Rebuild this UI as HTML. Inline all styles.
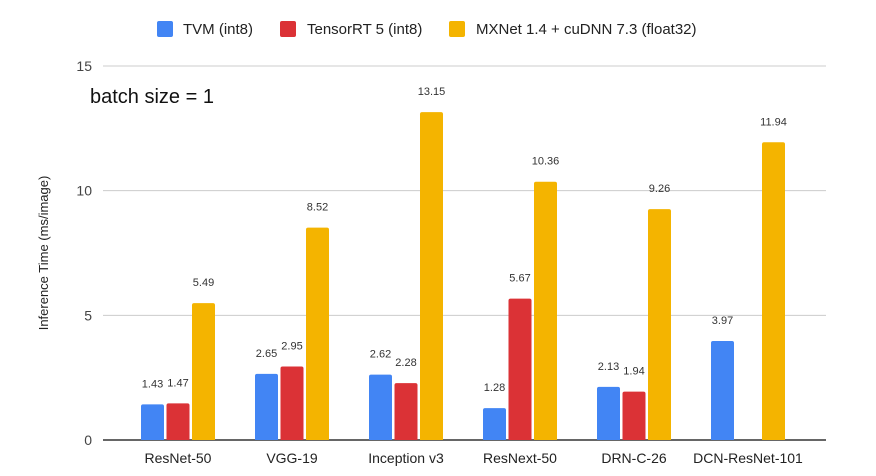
<!DOCTYPE html>
<html><head><meta charset="utf-8"><style>
body{margin:0;background:#fff;}
svg{display:block;font-family:"Liberation Sans",sans-serif;}
</style></head><body>
<svg id="chart" width="876" height="476">
<g id="legend">
<g><rect x="157" y="21" width="16" height="16" rx="2" fill="#4285f4"/><text x="183" y="34" font-size="15" fill="#222">TVM (int8)</text></g>
<g><rect x="280" y="21" width="16" height="16" rx="2" fill="#db3236"/><text x="307" y="34" font-size="15" fill="#222">TensorRT 5 (int8)</text></g>
<g><rect x="449" y="21" width="16" height="16" rx="2" fill="#f4b400"/><text x="476" y="34" font-size="15" fill="#222">MXNet 1.4 + cuDNN 7.3 (float32)</text></g>
</g>
<text x="90" y="103" font-size="20" fill="#111">batch size = 1</text>
<text transform="translate(48,253) rotate(-90)" text-anchor="middle" font-size="13" fill="#222">Inference Time (ms/image)</text>
<g id="grid"></g><g id="bars"></g><g id="labels"></g>
</svg>
<script>
const categories=["ResNet-50","VGG-19","Inception v3","ResNext-50","DRN-C-26","DCN-ResNet-101"];
const tvm=[1.43,2.65,2.62,1.28,2.13,3.97];
const trt=[1.47,2.95,2.28,5.67,1.94,null];
const mxnet=[5.49,8.52,13.15,10.36,9.26,11.94];
const yTicks=[0,5,10,15];
const seriesColors=["#4285f4","#db3236","#f4b400"];
const seriesNames=["tvm","tensorrt","mxnet"];
const X0=103,X1=826,Y0=440,Y15=66,CX0=178,STEP=114;
const ns="http://www.w3.org/2000/svg";
function y(v){return Y0-(v/15)*(Y0-Y15);}
function xc(i){return CX0+STEP*i;}
function mk(t,a,p){const e=document.createElementNS(ns,t);for(const k in a)e.setAttribute(k,a[k]);p.appendChild(e);return e;}
const g=document.getElementById('grid'),b=document.getElementById('bars'),l=document.getElementById('labels');
yTicks.forEach(t=>{
 if(t>0){const ln=mk('line',{x1:X0,x2:X1,y1:y(t),y2:y(t),stroke:'#ccc','stroke-width':1},g);
 
 }
 const tx=mk('text',{x:92,y:y(t)+5,'text-anchor':'end','font-size':14,fill:'#444'},g);tx.textContent=t;
 
 
});
const ax=mk('line',{x1:X0,x2:X1,y1:Y0,y2:Y0,stroke:'#333','stroke-width':1.5},g);


const series=[tvm,trt,mxnet],bw=23,gap=2.5;
categories.forEach((c,i)=>{
 const cx=xc(i);
 const ct=mk('text',{x:cx,y:463,'text-anchor':'middle','font-size':14,fill:'#222'},l);ct.textContent=c;
 
 
 series.forEach((s,k)=>{
  const v=s[i];if(v==null)return;
  const x=cx-bw*1.5-gap+k*(bw+gap);
  const r=mk('path',{d:`M${x},${Y0} V${y(v)+2} q0,-2 2,-2 h${bw-4} q2,0 2,2 V${Y0} Z`,fill:seriesColors[k]},b);
  
  
  const vt=mk('text',{x:x+bw/2,y:y(v)-17,'text-anchor':'middle','font-size':11,fill:'#333'},l);vt.textContent=v.toFixed(2);
  
  
 });
});
</script>
</body></html>
